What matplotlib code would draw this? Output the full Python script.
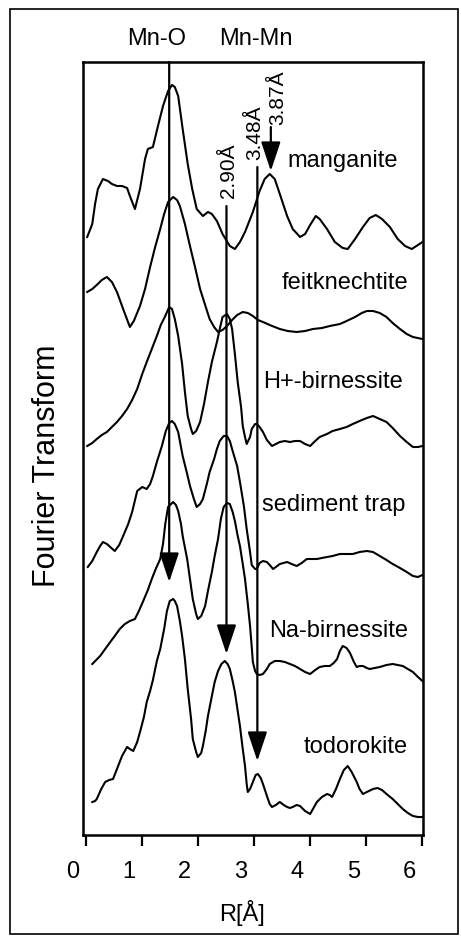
import matplotlib
matplotlib.use("Agg")
import matplotlib.pyplot as plt
from matplotlib.patches import Rectangle
from matplotlib.transforms import ScaledTranslation

plt.rcParams['font.family'] = ['Liberation Sans', 'DejaVu Sans']

# ---------------- data ----------------
r_manganite = [0.03, 0.12, 0.17, 0.22, 0.31, 0.40, 0.47, 0.56, 0.65, 0.74, 0.79, 0.88, 0.97, 1.06, 1.11, 1.20,
               1.29, 1.38, 1.47, 1.54, 1.59, 1.65, 1.73, 1.82, 1.90, 1.98, 2.09, 2.18, 2.25, 2.34, 2.44, 2.57,
               2.66, 2.75, 2.84, 2.98, 3.10, 3.19, 3.28, 3.37, 3.46, 3.59, 3.69, 3.82, 3.91, 4.00, 4.10, 4.17,
               4.30, 4.44, 4.58, 4.67, 4.80, 4.94, 5.06, 5.17, 5.28, 5.42, 5.56, 5.69, 5.81, 5.92, 6.00]
ft_manganite = [5.98, 6.11, 6.31, 6.46, 6.56, 6.54, 6.51, 6.49, 6.49, 6.47, 6.39, 6.26, 6.46, 6.76, 6.86, 6.88,
                7.09, 7.29, 7.44, 7.50, 7.48, 7.39, 7.06, 6.71, 6.46, 6.26, 6.19, 6.23, 6.21, 6.14, 6.01, 5.89,
                5.86, 5.93, 6.03, 6.23, 6.44, 6.56, 6.61, 6.56, 6.41, 6.19, 6.06, 5.98, 6.01, 6.10, 6.19, 6.16,
                6.06, 5.93, 5.87, 5.86, 5.96, 6.08, 6.17, 6.20, 6.16, 6.08, 5.96, 5.89, 5.86, 5.90, 5.93]

r_feitknechtite = [0.03, 0.12, 0.20, 0.29, 0.38, 0.47, 0.56, 0.67, 0.79, 0.86, 0.97, 1.06, 1.15, 1.24, 1.33,
                   1.40, 1.47, 1.56, 1.63, 1.68, 1.77, 1.86, 1.95, 2.04, 2.13, 2.21, 2.29, 2.36, 2.44, 2.52,
                   2.61, 2.70, 2.80, 2.89, 2.98, 3.07, 3.16, 3.28, 3.46, 3.60, 3.76, 3.91, 4.05, 4.21, 4.35,
                   4.53, 4.65, 4.80, 4.92, 5.01, 5.12, 5.24, 5.36, 5.47, 5.60, 5.72, 5.83, 6.00]
ft_feitknechtite = [5.43, 5.46, 5.50, 5.55, 5.58, 5.53, 5.43, 5.26, 5.08, 5.14, 5.29, 5.46, 5.68, 5.88, 6.06,
                    6.21, 6.33, 6.38, 6.35, 6.29, 6.11, 5.89, 5.68, 5.46, 5.30, 5.16, 5.08, 5.03, 5.05, 5.09,
                    5.15, 5.20, 5.23, 5.22, 5.19, 5.15, 5.13, 5.10, 5.06, 5.04, 5.03, 5.04, 5.06, 5.07, 5.09,
                    5.11, 5.14, 5.18, 5.22, 5.24, 5.24, 5.22, 5.18, 5.12, 5.06, 5.01, 4.98, 4.96]

r_hbirnessite = [0.03, 0.12, 0.20, 0.29, 0.38, 0.47, 0.56, 0.65, 0.74, 0.83, 0.92, 1.01, 1.09, 1.18, 1.27,
                 1.34, 1.42, 1.49, 1.54, 1.59, 1.65, 1.72, 1.77, 1.82, 1.88, 1.91, 1.97, 2.04, 2.11, 2.18,
                 2.25, 2.34, 2.39, 2.44, 2.52, 2.57, 2.61, 2.66, 2.71, 2.77, 2.80, 2.84, 2.87, 2.93, 2.96,
                 3.02, 3.05, 3.10, 3.16, 3.23, 3.32, 3.39, 3.46, 3.55, 3.64, 3.73, 3.82, 3.91, 4.00, 4.09,
                 4.17, 4.30, 4.40, 4.53, 4.65, 4.76, 4.88, 5.01, 5.12, 5.24, 5.36, 5.47, 5.60, 5.72, 5.83,
                 5.92, 6.00]
ft_hbirnessite = [3.89, 3.92, 3.96, 4.00, 4.03, 4.08, 4.13, 4.19, 4.26, 4.35, 4.46, 4.61, 4.73, 4.86, 4.99,
                  5.10, 5.19, 5.28, 5.26, 5.16, 4.99, 4.71, 4.43, 4.19, 4.06, 4.01, 4.04, 4.13, 4.31, 4.53,
                  4.73, 4.93, 5.06, 5.18, 5.21, 5.16, 5.06, 4.81, 4.53, 4.28, 4.09, 3.98, 3.91, 3.98, 4.06,
                  4.11, 4.11, 4.08, 4.03, 3.95, 3.89, 3.91, 3.93, 3.94, 3.93, 3.94, 3.94, 3.91, 3.89, 3.94,
                  3.98, 4.01, 4.04, 4.06, 4.08, 4.11, 4.14, 4.17, 4.19, 4.16, 4.13, 4.07, 3.99, 3.93, 3.88,
                  3.88, 3.89]

r_sediment = [0.04, 0.12, 0.20, 0.26, 0.31, 0.38, 0.44, 0.52, 0.60, 0.67, 0.76, 0.83, 0.92, 1.01, 1.09,
              1.15, 1.20, 1.27, 1.36, 1.43, 1.49, 1.54, 1.59, 1.65, 1.73, 1.81, 1.86, 1.93, 1.98, 2.04,
              2.09, 2.16, 2.21, 2.29, 2.34, 2.39, 2.46, 2.52, 2.57, 2.62, 2.70, 2.75, 2.82, 2.87, 2.93,
              2.96, 3.02, 3.05, 3.10, 3.16, 3.23, 3.28, 3.34, 3.39, 3.46, 3.59, 3.67, 3.76, 3.85, 3.94,
              4.03, 4.12, 4.21, 4.30, 4.40, 4.53, 4.65, 4.76, 4.88, 5.01, 5.12, 5.24, 5.36, 5.47, 5.60,
              5.72, 5.83, 5.92, 6.00]
ft_sediment = [2.68, 2.74, 2.83, 2.89, 2.93, 2.91, 2.88, 2.84, 2.90, 2.99, 3.11, 3.23, 3.44, 3.48, 3.46,
               3.51, 3.59, 3.73, 3.89, 4.04, 4.12, 4.14, 4.11, 4.03, 3.79, 3.61, 3.49, 3.36, 3.28, 3.31,
               3.36, 3.51, 3.63, 3.76, 3.86, 3.94, 3.99, 3.99, 3.94, 3.84, 3.69, 3.53, 3.29, 3.06, 2.83,
               2.70, 2.66, 2.66, 2.72, 2.74, 2.73, 2.70, 2.66, 2.68, 2.71, 2.73, 2.71, 2.69, 2.72, 2.76,
               2.76, 2.76, 2.77, 2.78, 2.79, 2.81, 2.81, 2.81, 2.83, 2.84, 2.83, 2.79, 2.75, 2.71, 2.67,
               2.63, 2.59, 2.58, 2.60]

r_nabirnessite = [0.12, 0.19, 0.26, 0.35, 0.44, 0.52, 0.61, 0.70, 0.79, 0.88, 0.95, 1.02, 1.11, 1.18, 1.25,
                  1.33, 1.38, 1.42, 1.47, 1.56, 1.61, 1.65, 1.70, 1.73, 1.81, 1.86, 1.91, 1.97, 2.00, 2.06,
                  2.13, 2.18, 2.25, 2.30, 2.36, 2.41, 2.46, 2.52, 2.57, 2.62, 2.66, 2.71, 2.75, 2.80, 2.84,
                  2.89, 2.93, 2.96, 2.98, 3.02, 3.05, 3.10, 3.16, 3.23, 3.28, 3.37, 3.46, 3.55, 3.64, 3.73,
                  3.82, 3.91, 4.00, 4.09, 4.17, 4.26, 4.35, 4.42, 4.48, 4.53, 4.58, 4.65, 4.71, 4.78, 4.83,
                  4.88, 4.94, 5.01, 5.06, 5.15, 5.24, 5.36, 5.47, 5.56, 5.65, 5.74, 5.83, 5.92, 6.00]
ft_nabirnessite = [1.71, 1.75, 1.79, 1.86, 1.93, 1.99, 2.06, 2.11, 2.14, 2.16, 2.24, 2.33, 2.45, 2.56, 2.66,
                   2.76, 2.91, 3.11, 3.28, 3.33, 3.30, 3.24, 3.11, 2.99, 2.76, 2.56, 2.36, 2.21, 2.16, 2.19,
                   2.29, 2.44, 2.63, 2.79, 2.96, 3.16, 3.28, 3.32, 3.31, 3.23, 3.14, 2.99, 2.89, 2.71, 2.56,
                   2.31, 2.09, 1.88, 1.73, 1.64, 1.61, 1.60, 1.61, 1.66, 1.71, 1.74, 1.74, 1.73, 1.71, 1.69,
                   1.66, 1.63, 1.61, 1.65, 1.68, 1.69, 1.69, 1.72, 1.76, 1.84, 1.89, 1.87, 1.82, 1.73, 1.68,
                   1.69, 1.69, 1.67, 1.66, 1.67, 1.68, 1.70, 1.71, 1.70, 1.69, 1.66, 1.63, 1.58, 1.54]

r_todorokite = [0.12, 0.17, 0.20, 0.28, 0.35, 0.42, 0.49, 0.56, 0.65, 0.74, 0.79, 0.85, 0.92, 0.97, 1.04,
                1.09, 1.15, 1.20, 1.27, 1.33, 1.40, 1.45, 1.50, 1.56, 1.59, 1.63, 1.68, 1.72, 1.77, 1.82,
                1.88, 1.91, 1.97, 2.00, 2.06, 2.09, 2.14, 2.18, 2.25, 2.30, 2.36, 2.42, 2.48, 2.53, 2.57,
                2.62, 2.66, 2.71, 2.75, 2.80, 2.84, 2.87, 2.89, 2.93, 2.98, 3.03, 3.07, 3.12, 3.16, 3.23,
                3.28, 3.32, 3.39, 3.46, 3.53, 3.59, 3.64, 3.69, 3.76, 3.82, 3.91, 4.00, 4.05, 4.12, 4.21,
                4.30, 4.35, 4.39, 4.46, 4.53, 4.60, 4.67, 4.74, 4.83, 4.88, 4.94, 5.01, 5.12, 5.20, 5.28,
                5.36, 5.47, 5.56, 5.65, 5.74, 5.83, 5.92, 6.00]
ft_todorokite = [0.33, 0.34, 0.36, 0.46, 0.53, 0.55, 0.56, 0.66, 0.79, 0.88, 0.86, 0.84, 0.93, 1.03, 1.18,
                 1.33, 1.44, 1.55, 1.74, 1.86, 2.06, 2.24, 2.34, 2.36, 2.34, 2.29, 2.14, 1.99, 1.76, 1.46,
                 1.16, 0.96, 0.83, 0.78, 0.82, 0.89, 1.04, 1.19, 1.39, 1.53, 1.64, 1.71, 1.74, 1.71, 1.66,
                 1.54, 1.43, 1.24, 1.09, 0.86, 0.69, 0.51, 0.43, 0.46, 0.53, 0.60, 0.61, 0.57, 0.51, 0.39,
                 0.31, 0.28, 0.30, 0.33, 0.30, 0.28, 0.27, 0.28, 0.30, 0.29, 0.24, 0.21, 0.26, 0.33, 0.38,
                 0.41, 0.40, 0.38, 0.46, 0.56, 0.65, 0.69, 0.63, 0.53, 0.46, 0.41, 0.43, 0.46, 0.47, 0.45,
                 0.41, 0.36, 0.31, 0.26, 0.22, 0.19, 0.18, 0.18]

curve_names = ["manganite", "feitknechtite", "H+-birnessite", "sediment trap", "Na-birnessite", "todorokite"]
curves_r = [r_manganite, r_feitknechtite, r_hbirnessite, r_sediment, r_nabirnessite, r_todorokite]
curves_ft = [ft_manganite, ft_feitknechtite, ft_hbirnessite, ft_sediment, ft_nabirnessite, ft_todorokite]
label_r = [5.56, 5.74, 5.65, 5.69, 5.74, 5.74]
label_ft = [6.75, 5.53, 4.54, 3.31, 2.05, 0.89]

# marker lines: (R position, top, arrow tip)
mark_r = [1.49, 2.51, 3.06, 3.30]
mark_top = [7.73, 6.29, 6.68, 7.08]
mark_tip = [2.53, 1.81, 0.74, 6.64]
dist_labels = ["2.90Å", "3.48Å", "3.87Å"]
dist_label_r = [2.55, 3.02, 3.43]
dist_label_ft = [6.65, 7.03, 7.38]

x_ticks = [0, 1, 2, 3, 4, 5, 6]

# ---------------- figure ----------------
fig = plt.figure(figsize=(4.61, 9.37), dpi=100)
ax = fig.add_axes([83 / 461, 1 - 836 / 937, 340 / 461, 773 / 937])

for r, ft in zip(curves_r, curves_ft):
    ax.plot(r, ft, color='black', lw=1.5, solid_joinstyle='round')

for name, lr, lf in zip(curve_names, label_r, label_ft):
    ax.text(lr, lf, name, ha='right', va='center', fontsize=17)

for r0, top, tip in zip(mark_r, mark_top, mark_tip):
    ax.annotate('', xy=(r0, tip), xytext=(r0, top), annotation_clip=False,
                arrowprops=dict(arrowstyle='-|>,head_length=0.9,head_width=0.3',
                                mutation_scale=20, lw=1.6, color='black',
                                shrinkA=0, shrinkB=0))

for t, lr, lf in zip(dist_labels, dist_label_r, dist_label_ft):
    ax.text(lr, lf, t, rotation=90, ha='center', va='center', fontsize=15)

ax.text(1.27, 7.97, "Mn-O", ha='center', va='center', fontsize=17, clip_on=False)
ax.text(3.03, 7.97, "Mn-Mn", ha='center', va='center', fontsize=17, clip_on=False)

ax.set_xlim(-0.045, 6.01)
ax.set_ylim(0, 7.73)
ax.set_xticks(x_ticks)
ax.set_xticklabels([str(t) for t in x_ticks])
ax.set_yticks([])
ax.tick_params(axis='x', direction='out', length=8, width=1.6, labelsize=17, pad=10)
shift = ScaledTranslation(-0.13, 0, fig.dpi_scale_trans)
for lbl in ax.get_xticklabels():
    lbl.set_transform(lbl.get_transform() + shift)
for s in ax.spines.values():
    s.set_linewidth(1.8)

ax.set_xlabel("R[Å]", fontsize=17)
ax.xaxis.set_label_coords(0.468, -0.083)
ax.set_ylabel("Fourier Transform", fontsize=22)
ax.yaxis.set_label_coords(-0.063, 0.479)

# outer frame
fig.patches.append(Rectangle((10 / 461, 2 / 937), 448 / 461, 925 / 937, transform=fig.transFigure,
                             fill=False, edgecolor='black', lw=1.2))

fig.savefig("out.png", dpi=100)
